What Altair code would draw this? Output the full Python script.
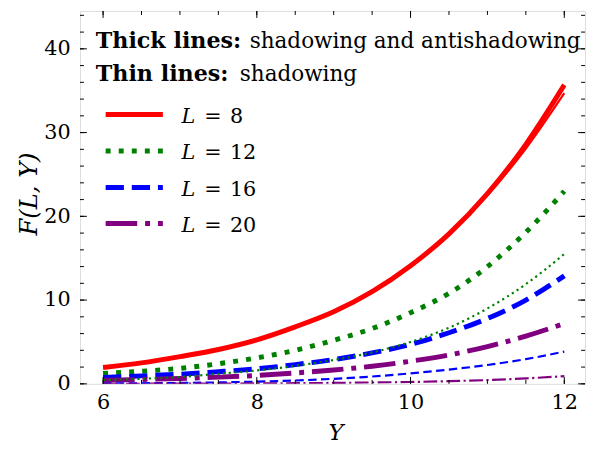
import altair as alt
import pandas as pd

# ---------------- data ----------------
Y_vals = [6.0, 6.5, 7.0, 7.5, 8.0, 8.5, 9.0, 9.5, 10.0, 10.5, 11.0, 11.5, 12.0]
L8_thick = [1.95, 2.5, 3.25, 4.1, 5.25, 6.8, 8.6, 11.0, 14.1, 17.9, 22.7, 28.6, 35.7]
L8_thin = [1.95, 2.5, 3.25, 4.1, 5.25, 6.8, 8.6, 11.0, 14.0, 17.8, 22.5, 28.1, 34.7]
L12_thick = [1.24, 1.5, 1.85, 2.4, 3.1, 4.0, 5.2, 6.6, 8.5, 10.8, 14.0, 18.1, 23.0]
L12_thin = [0.45, 0.6, 0.82, 1.2, 1.6, 2.15, 2.85, 3.75, 5.0, 6.7, 9.0, 11.9, 15.5]
L16_thick = [0.75, 0.95, 1.15, 1.45, 1.8, 2.3, 2.9, 3.7, 4.7, 6.1, 7.8, 10.0, 12.9]
L16_thin = [0.05, 0.07, 0.11, 0.17, 0.26, 0.4, 0.6, 0.87, 1.25, 1.7, 2.25, 2.95, 3.85]
L20_thick = [0.42, 0.52, 0.64, 0.8, 1.0, 1.3, 1.65, 2.1, 2.7, 3.45, 4.45, 5.7, 7.2]
L20_thin = [0.01, 0.015, 0.02, 0.035, 0.05, 0.08, 0.11, 0.16, 0.22, 0.32, 0.45, 0.65, 0.92]

L_labels = ["8", "12", "16", "20"]
x_major_ticks = [6, 8, 10, 12]
x_minor_ticks = [6.0, 6.5, 7.0, 7.5, 8.0, 8.5, 9.0, 9.5, 10.0, 10.5, 11.0, 11.5, 12.0]
y_major_ticks = [0, 10, 20, 30, 40]
y_minor_ticks = [0, 2, 4, 6, 8, 10, 12, 14, 16, 18, 20, 22, 24, 26, 28, 30, 32, 34, 36, 38, 40, 42, 44]
note_bold = ["Thick lines:", "Thin lines:"]
note_text = ["shadowing and antishadowing", "shadowing"]

series = {
    ("8", "thick"): L8_thick, ("8", "thin"): L8_thin,
    ("12", "thick"): L12_thick, ("12", "thin"): L12_thin,
    ("16", "thick"): L16_thick, ("16", "thin"): L16_thin,
    ("20", "thick"): L20_thick, ("20", "thin"): L20_thin,
}
rows = []
for (L, kind), vals in series.items():
    for y, f in zip(Y_vals, vals):
        rows.append({"Y": y, "F": f, "L": L, "kind": kind})
df = pd.DataFrame(rows)

# ---------------- styles ----------------
W, H = 512, 378
FONT = "DejaVu Serif"
colors = {"8": "#ff0000", "12": "#008000", "16": "#0000ff", "20": "#800080"}
THICK, THIN = 5.0, 2.2
dash_thick = {"8": None, "12": [5, 8.25], "16": [18.5, 8], "20": [32, 8, 5, 8]}
dash_thin = {"8": None, "12": [2.2, 3.6], "16": [8.5, 4.5], "20": [14, 3.5, 2.2, 3.5]}

x_scale = alt.Scale(domain=[5.7, 12.27], nice=False, zero=False)
y_scale = alt.Scale(domain=[0, 44.52], nice=False, zero=False)

x_axis = alt.Axis(
    title="Y", values=x_major_ticks, format="d", ticks=False, domain=False, grid=False,
    labelFont=FONT, labelFontSize=21, labelColor="black", labelPadding=8, labelFlush=False,
    titleFont=FONT, titleFontSize=23, titleFontStyle="italic", titleFontWeight="normal",
    titleColor="black", titleX=W / 2 + 3, titleY=56, titleAlign="center", titleBaseline="alphabetic",
)
y_axis = alt.Axis(
    title="F(L, Y)", values=y_major_ticks, format="d", ticks=False, domain=False, grid=False,
    labelFont=FONT, labelFontSize=21, labelColor="black", labelPadding=10, labelFlush=False,
    titleFont=FONT, titleFontSize=24.5, titleFontStyle="italic", titleFontWeight="normal",
    titleColor="black", titleAngle=270, titleX=-44, titleY=185, titleAlign="center",
    titleBaseline="alphabetic",
)


def line_layer(L, kind):
    props = dict(color=colors[L], strokeWidth=THICK if kind == "thick" else THIN,
                 interpolate="monotone", clip=True, strokeCap="butt")
    dash = (dash_thick if kind == "thick" else dash_thin)[L]
    if dash:
        props["strokeDash"] = dash
    return alt.Chart(df).transform_filter(
        (alt.datum.L == L) & (alt.datum.kind == kind)
    ).mark_line(**props).encode(
        x=alt.X("Y:Q", scale=x_scale, axis=x_axis),
        y=alt.Y("F:Q", scale=y_scale, axis=y_axis),
        order="Y:Q",
    )


layers = []
for kind in ["thick", "thin"]:
    for L in L_labels:
        layers.append(line_layer(L, kind))

# ---------------- inward ticks on all four sides ----------------
def xticks(vals, length):
    d = pd.DataFrame({"v": vals})
    bottom = alt.Chart(d).mark_rule(color="black", strokeWidth=1).encode(
        x=alt.X("v:Q", scale=x_scale, axis=x_axis), y=alt.value(H), y2=alt.value(H - length))
    top = alt.Chart(d).mark_rule(color="black", strokeWidth=1).encode(
        x=alt.X("v:Q", scale=x_scale, axis=x_axis), y=alt.value(0), y2=alt.value(length))
    return [bottom, top]


def yticks(vals, length):
    d = pd.DataFrame({"v": vals})
    left = alt.Chart(d).mark_rule(color="black", strokeWidth=1).encode(
        y=alt.Y("v:Q", scale=y_scale, axis=y_axis), x=alt.value(0), x2=alt.value(length))
    right = alt.Chart(d).mark_rule(color="black", strokeWidth=1).encode(
        y=alt.Y("v:Q", scale=y_scale, axis=y_axis), x=alt.value(W), x2=alt.value(W - length))
    return [left, right]


layers += xticks(x_minor_ticks, 4) + xticks(x_major_ticks, 7)
layers += yticks(y_minor_ticks, 4) + yticks(y_major_ticks, 7)

# ---------------- annotations ----------------
OX, OY = 81, 8  # page position of plot origin
note_y = [45.5, 79]
note_x_text = [253, 243]
for i in range(2):
    layers.append(alt.Chart(pd.DataFrame({"t": [note_bold[i]]})).mark_text(
        font=FONT, fontSize=22.5, fontWeight="bold", align="left", baseline="alphabetic", color="black"
    ).encode(text="t:N", x=alt.value(97 - OX), y=alt.value(note_y[i] - OY)))
    layers.append(alt.Chart(pd.DataFrame({"t": [note_text[i]]})).mark_text(
        font=FONT, fontSize=21.8, align="left", baseline="alphabetic", color="black"
    ).encode(text="t:N", x=alt.value(note_x_text[i] - OX), y=alt.value(note_y[i] - OY)))

# ---------------- legend ----------------
legend_y = [113, 150, 187, 223.5]
for i, L in enumerate(L_labels):
    ly = legend_y[i] - OY
    props = dict(color=colors[L], strokeWidth=THICK, strokeCap="butt")
    if dash_thick[L]:
        props["strokeDash"] = dash_thick[L]
    layers.append(alt.Chart(pd.DataFrame({"L": [L]})).mark_rule(**props).encode(
        x=alt.value(107 - OX), x2=alt.value(165 - OX), y=alt.value(ly)))
    base_y = ly + 8.5
    layers.append(alt.Chart(pd.DataFrame({"t": ["L"]})).mark_text(
        font=FONT, fontSize=21, fontStyle="italic", align="left", baseline="alphabetic", color="black"
    ).encode(text="t:N", x=alt.value(184 - OX), y=alt.value(base_y)))
    layers.append(alt.Chart(pd.DataFrame({"t": ["="]})).mark_text(
        font=FONT, fontSize=21, align="left", baseline="alphabetic", color="black"
    ).encode(text="t:N", x=alt.value(207 - OX), y=alt.value(base_y)))
    layers.append(alt.Chart(pd.DataFrame({"t": [L]})).mark_text(
        font=FONT, fontSize=21, align="left", baseline="alphabetic", color="black"
    ).encode(text="t:N", x=alt.value(233 - OX), y=alt.value(base_y)))

chart = alt.layer(*layers).properties(
    width=W, height=H,
    autosize=alt.AutoSizeParams(type="none"),
    padding={"left": 73, "top": 0, "right": 3, "bottom": 60},
).configure_view(stroke="black", strokeWidth=1.2).configure(background="white")

chart.save("out.html", embed_options={"renderer": "svg", "actions": False})
